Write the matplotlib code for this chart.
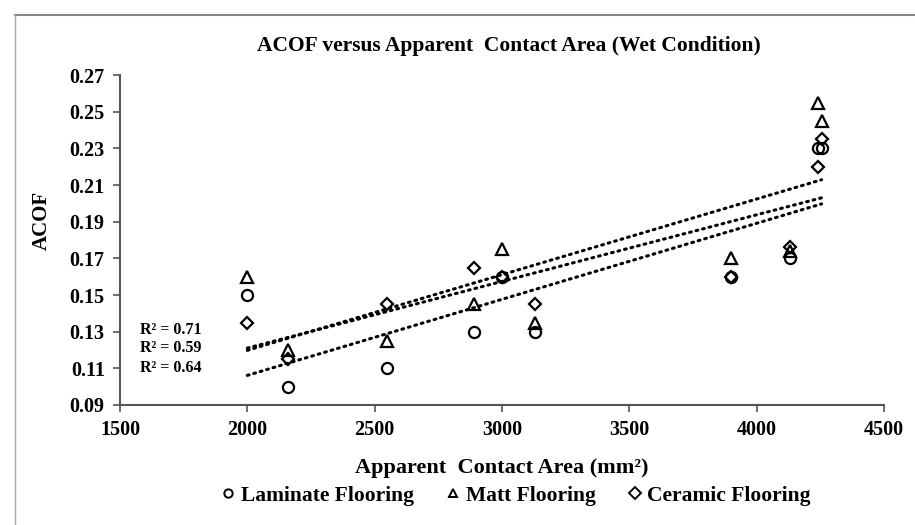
import numpy as np
import matplotlib
matplotlib.use("Agg")
import matplotlib.pyplot as plt
from matplotlib.lines import Line2D

plt.rcParams['font.family'] = ['Liberation Serif', 'DejaVu Serif']
plt.rcParams['font.weight'] = 'bold'

# contact area (mm^2)
area = [2000, 2160, 2550, 2890, 3000, 3130, 3900, 4130, 4240, 4255]

# ACOF per flooring type
laminate = [0.150, 0.100, 0.110, 0.130, 0.160, 0.130, 0.160, 0.170, 0.230, 0.230]
matt = [0.160, 0.120, 0.125, 0.145, 0.175, 0.135, 0.170, 0.174, 0.255, 0.245]
ceramic = [0.135, 0.115, 0.145, 0.165, 0.160, 0.145, 0.160, 0.176, 0.220, 0.235]

r2_labels = ["R² = 0.71", "R² = 0.59", "R² = 0.64"]
series = [("Laminate Flooring", laminate, "o"),
          ("Matt Flooring", matt, "^"),
          ("Ceramic Flooring", ceramic, "D")]

fig = plt.figure(figsize=(9.15, 5.25), dpi=100)
ax = fig.add_axes([0.1311, 0.2286, 0.835, 0.6284])

x = np.array(area)
for name, vals, m in series:
    ms = 8 if m != "D" else 6
    ax.plot(x, vals, linestyle="none", marker=m, markersize=ms,
            markerfacecolor="none", markeredgecolor="black",
            markeredgewidth=1.6, label=name)
    # linear trendline like excel
    k, b = np.polyfit(x, vals, 1)
    xs = np.array([x.min(), x.max()])
    ax.plot(xs, k * xs + b, color="black", linestyle=(0, (0.6, 1.6)),
            linewidth=2.2, dash_capstyle="round")

ax.set_xlim(1500, 4500)
ax.set_ylim(0.09, 0.27)
ax.set_xticks(np.arange(1500, 4501, 500))
ax.set_yticks(np.arange(0.09, 0.2701, 0.02))
ax.set_yticklabels(["%.2f" % v for v in np.arange(0.09, 0.2701, 0.02)])
ax.tick_params(direction="out", length=5, width=1.2, colors="black",
               labelsize=14.5, pad=6)
for lbl in ax.get_xticklabels() + ax.get_yticklabels():
    lbl.set_fontweight("bold")
ax.spines["top"].set_visible(False)
ax.spines["right"].set_visible(False)
ax.spines["left"].set_color("#555555")
ax.spines["bottom"].set_color("#555555")
ax.spines["left"].set_linewidth(1.5)
ax.spines["bottom"].set_linewidth(1.5)
ax.tick_params(colors="#555555", labelcolor="black")

ax.set_xlabel("Apparent  Contact Area (mm²)", fontsize=16, fontweight="bold",
              labelpad=13)
fig.text(0.046, 0.58, "ACOF", rotation=90, fontsize=15, fontweight="bold",
         ha="center", va="center")
fig.text(0.556, 0.913, "ACOF versus Apparent  Contact Area (Wet Condition)",
         fontsize=15.5, fontweight="bold", ha="center", va="center")

r2_y = [0.227, 0.172, 0.112]
for t, yy in zip(r2_labels, r2_y):
    ax.text(0.066, yy, t, transform=ax.transAxes,
            fontsize=11.5, fontweight="bold", ha="center", va="center")

leg = fig.legend(loc="center", bbox_to_anchor=(0.562, 0.056), ncol=3,
                 frameon=False, fontsize=15.5, handletextpad=0.1,
                 columnspacing=1.3, handlelength=1.0)
for h in leg.legend_handles:
    h.set_markersize(6)
    h.set_markeredgewidth(1.4)

# outer frame lines
fig.add_artist(Line2D([15 / 915, 1.0], [1 - 15 / 525, 1 - 15 / 525],
                      transform=fig.transFigure, color="#888888", linewidth=1.5))
fig.add_artist(Line2D([15 / 915, 15 / 915], [0, 1 - 15 / 525],
                      transform=fig.transFigure, color="#aaaaaa", linewidth=1.0))

fig.savefig("out.png", dpi=100)
